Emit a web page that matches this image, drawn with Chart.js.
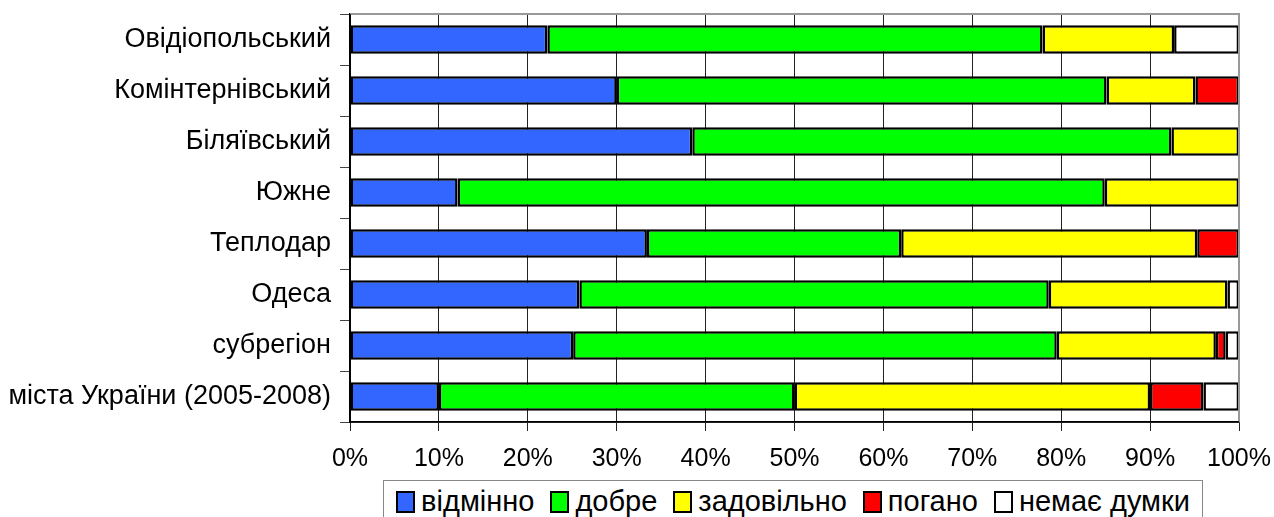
<!DOCTYPE html>
<html>
<head>
<meta charset="utf-8">
<script src="https://cdn.jsdelivr.net/npm/chart.js@4"></script>
<style>
  html, body { margin: 0; padding: 0; background: #fff; }
  #wrap { position: relative; width: 1274px; height: 517px; overflow: hidden; }
  #legend { position: absolute; left: 383px; top: 480px; width: 820px; height: 50px;
    border: 1px solid #888; box-sizing: border-box; background: #fff;
    font-family: "Liberation Sans", Arial, sans-serif; font-size: 29px; color: #000; line-height: 33px;
    display: flex; justify-content: center; align-items: flex-start; padding-top: 4px; }
  .item { display: flex; align-items: center; margin: 0 8px; white-space: nowrap; }
  .sw { width: 15px; height: 18px; border: 2px solid #000; margin-right: 6px; }
</style>
</head>
<body>
<div id="wrap">
  <canvas id="c" width="1274" height="517"></canvas>
  <div id="legend"></div>
</div>
<script>
const categories = ["Овідіопольський", "Комінтернівський", "Біляївський", "Южне", "Теплодар", "Одеса", "субрегіон", "міста України (2005-2008)"];
const seriesNames = ["відмінно", "добре", "задовільно", "погано", "немає думки"];
const seriesColors = ["#3366FF", "#00FF00", "#FFFF00", "#FF0000", "#FFFFFF"];
const excellent = [22.2, 30.0, 38.5, 12.1, 33.4, 25.8, 25.1, 10.0];
const good      = [55.7, 55.1, 53.9, 72.8, 28.6, 52.8, 54.4, 40.0];
const fair      = [14.8, 10.0, 7.6, 15.1, 33.3, 20.1, 17.9, 40.0];
const poor      = [0, 4.9, 0, 0, 4.7, 0, 1.1, 6.0];
const noOpinion = [7.3, 0, 0, 0, 0, 1.3, 1.5, 4.0];
const tickValues = [0, 10, 20, 30, 40, 50, 60, 70, 80, 90, 100];

const seriesData = [excellent, good, fair, poor, noOpinion];
const FONT = "'Liberation Sans', Arial, sans-serif";

const borderPlugin = {
  id: 'plotBorder',
  afterDatasetsDraw(chart) {
    const a = chart.chartArea, ctx = chart.ctx;
    ctx.save();
    ctx.strokeStyle = '#999';
    ctx.lineWidth = 2;
    ctx.beginPath();
    ctx.moveTo(a.left, a.top); ctx.lineTo(a.right, a.top); ctx.lineTo(a.right, a.bottom);
    ctx.stroke();
    ctx.strokeStyle = '#000';
    ctx.lineWidth = 1.5;
    ctx.beginPath();
    ctx.moveTo(a.left, a.top); ctx.lineTo(a.left, a.bottom); ctx.lineTo(a.right, a.bottom);
    ctx.stroke();
    ctx.restore();
  }
};

function zeroPad(s) { s.paddingLeft = 0; s.paddingRight = 0; s.paddingTop = 0; s.paddingBottom = 0; }

new Chart(document.getElementById('c'), {
  type: 'bar',
  data: {
    labels: categories,
    datasets: seriesNames.map((n, i) => ({
      label: n,
      data: seriesData[i],
      backgroundColor: seriesColors[i],
      borderColor: '#000',
      borderWidth: 2.5,
      borderSkipped: false,
      barPercentage: 0.56,
      categoryPercentage: 1.0
    }))
  },
  options: {
    indexAxis: 'y',
    responsive: false,
    animation: false,
    layout: { padding: { left: 0, right: 35, top: 14, bottom: 0 } },
    plugins: { legend: { display: false }, tooltip: { enabled: false } },
    scales: {
      x: {
        stacked: true, min: 0, max: 100,
        afterBuildTicks: s => { s.ticks = tickValues.map(v => ({ value: v })); },
        afterFit: s => { s.height = 95; zeroPad(s); },
        grid: { color: '#222', lineWidth: 1, tickLength: 9, drawTicks: true },
        border: { display: true, color: '#000', width: 1.5 },
        ticks: { callback: v => v + '%', color: '#000', font: { family: FONT, size: 25 }, padding: 13, maxRotation: 0, autoSkip: false }
      },
      y: {
        stacked: true,
        afterFit: s => { s.width = 350; zeroPad(s); },
        grid: { offset: true, drawOnChartArea: false, tickLength: 10, color: '#444', lineWidth: 1 },
        border: { display: true, color: '#000', width: 1.5 },
        ticks: { color: '#000', font: { family: FONT, size: 27 }, padding: 9 }
      }
    }
  },
  plugins: [borderPlugin]
});

const lg = document.getElementById('legend');
seriesNames.forEach((n, i) => {
  const it = document.createElement('div'); it.className = 'item';
  const sw = document.createElement('div'); sw.className = 'sw'; sw.style.background = seriesColors[i];
  const t = document.createElement('span'); t.textContent = n;
  it.appendChild(sw); it.appendChild(t); lg.appendChild(it);
});
</script>
</body>
</html>
